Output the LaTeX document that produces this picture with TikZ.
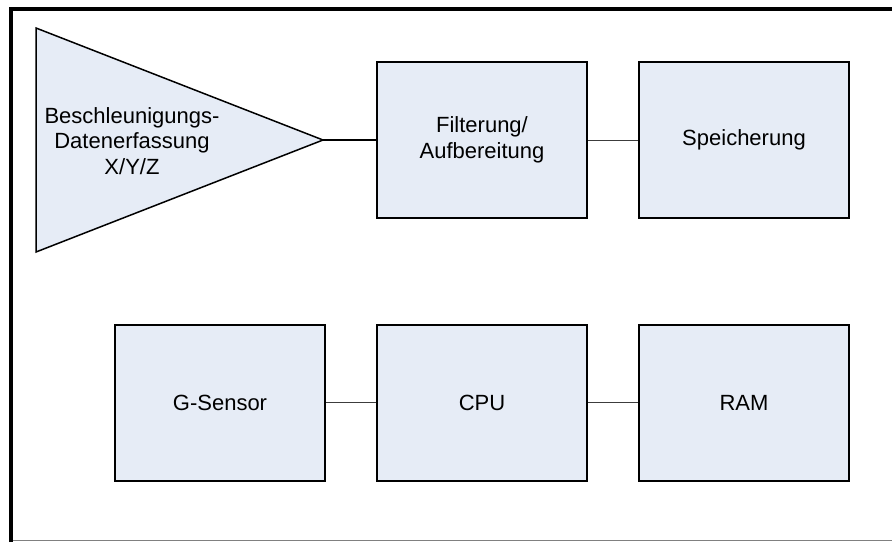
\documentclass[tikz,border=0pt]{standalone}
\usepackage{fontspec}
\setmainfont{Liberation Sans}
\definecolor{boxfill}{RGB}{230,236,246}
\definecolor{linkgray}{RGB}{60,60,60}
\begin{document}
\begin{tikzpicture}[x=1pt,y=-1pt,
  label font/.style={font=\fontsize{22}{25.5}\selectfont},
  block/.style={draw=black,line width=2pt,fill=boxfill,minimum width=210pt,minimum height=156pt,
    inner sep=0pt,label font,align=center},
  link/.style={draw=linkgray,line width=1pt},
  mainlink/.style={draw=black,line width=1.8pt}]
  \useasboundingbox (0,0) rectangle (892,542);
  \fill[white] (0,0) rectangle (892,542);
  % outer frame
  \draw[gray,line width=1pt] (11,540) -- (892,540);
  \draw[black,line width=4.5pt] (11,542) -- (11,9) -- (892,9);
  % acquisition triangle
  \draw[black,line width=1.5pt,fill=boxfill,line join=miter] (36,28) -- (323,140) -- (36,252) -- cycle;
  \coordinate (apex) at (323,140);
  \node[label font,align=center] (acq) at (132,141)
    {Beschleunigungs-\\Datenerfassung\\X/Y/Z};
  % blocks
  \node[block] (filt) at (482,140) {Filterung/\\Aufbereitung};
  \node[block] (store) at (744,140) {Speicherung};
  \node[block] (gsens) at (220,402.5) {G-Sensor};
  \node[block] (cpu) at (482,402.5) {CPU};
  \node[block] (ram) at (744,402.5) {RAM};
  % connectors
  \draw[mainlink] (apex) -- (filt.west);
  \draw[link] (filt.east) -- (store.west);
  \draw[link] (gsens.east) -- (cpu.west);
  \draw[link] (cpu.east) -- (ram.west);
\end{tikzpicture}
\end{document}
